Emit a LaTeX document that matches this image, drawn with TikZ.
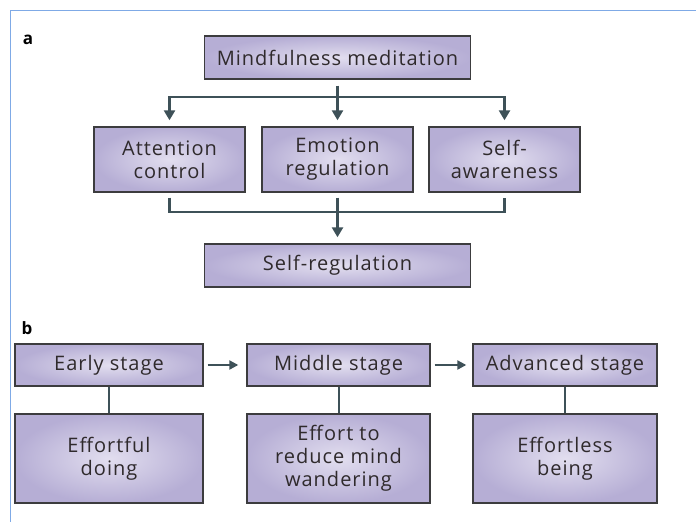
\documentclass[tikz,border=0pt]{standalone}
\usepackage{fontspec}
\setmainfont{Open Sans}[LetterSpace=5]
\usetikzlibrary{arrows.meta,shadings}

\definecolor{boxline}{HTML}{3C3C3E}
\definecolor{conn}{HTML}{3E5158}
\definecolor{innerc}{HTML}{E2DEEF}
\definecolor{outerc}{HTML}{B6AED5}
\definecolor{txt}{HTML}{2F2A2C}
\definecolor{framec}{HTML}{7FAAE6}

\tikzset{
 box/.style={draw=boxline, line width=1.4pt, inner color=innerc, outer color=outerc,
   align=center, text=txt, font=\fontsize{20}{23}\selectfont, inner sep=0pt},
 conline/.style={draw=conn, line width=2.4pt},
 arr/.style={conline, -{Triangle[length=10pt,width=11pt]}},
 sarr/.style={draw=conn, line width=2.2pt, -{Triangle[length=9pt,width=9pt]}},
 lbl/.style={font=\fontsize{17}{17}\bfseries\selectfont, text=black, inner sep=0pt}
}

\begin{document}
\begin{tikzpicture}[x=1pt,y=-1pt]
\useasboundingbox (0,0) rectangle (696,522);
\fill[white] (0,0) rectangle (696,522);
\draw[framec, line width=1pt] (10.5,522) -- (10.5,10.5) -- (696,10.5);

% part a
\node[lbl] (la) at (28,40) {a};
\node[box, minimum width=266pt, minimum height=43pt] (mm) at (337.5,57.5) {Mindfulness meditation};
\node[box, minimum width=151pt, minimum height=65pt] (ac) at (169.5,159.5) {Attention\\control};
\node[box, minimum width=151pt, minimum height=65pt] (er) at (337.5,159.5) {Emotion\\regulation};
\node[box, minimum width=151pt, minimum height=65pt] (sa) at (504.5,159.5) {Self-\\awareness};
\node[box, minimum width=266pt, minimum height=43pt] (sr) at (337.5,265.5) {Self-regulation};

\coordinate (j1) at (337.5,97);
\draw[conline] ([yshift=-6pt]mm.south) -- (j1);
\draw[arr] (j1) -| ([yshift=6pt]ac.north);
\draw[arr] (j1) -| ([yshift=6pt]sa.north);
\draw[arr] (j1) -- ([yshift=6pt]er.north);

\coordinate (j2) at (337.5,212);
\draw[conline] ([yshift=-5pt]ac.south) |- (j2) -| ([yshift=-5pt]sa.south);
\draw[arr] ([yshift=-5pt]er.south) -- ([yshift=6pt]sr.north);

% part b
\node[lbl] (lb) at (27,328) {b};
\node[box, minimum width=188pt, minimum height=42pt] (es) at (109,365) {Early stage};
\node[box, minimum width=183pt, minimum height=42pt] (ms) at (338.5,365) {Middle stage};
\node[box, minimum width=184pt, minimum height=42pt] (as) at (565,365) {Advanced stage};
\node[box, minimum width=188pt, minimum height=89pt] (ed) at (109,458.5) {Effortful\\doing};
\node[box, minimum width=183pt, minimum height=89pt] (ew) at (338.5,458.5) {Effort to\\reduce mind\\wandering};
\node[box, minimum width=184pt, minimum height=89pt] (eb) at (565,458.5) {Effortless\\being};

\draw[sarr] ([xshift=4pt]es.east) -- ([xshift=-8pt]ms.west);
\draw[sarr] ([xshift=4pt]ms.east) -- ([xshift=-6pt]as.west);
\draw[conline, line width=2pt] (es.south) -- (ed.north);
\draw[conline, line width=2pt] (ms.south) -- (ew.north);
\draw[conline, line width=2pt] (as.south) -- (eb.north);
\end{tikzpicture}
\end{document}
